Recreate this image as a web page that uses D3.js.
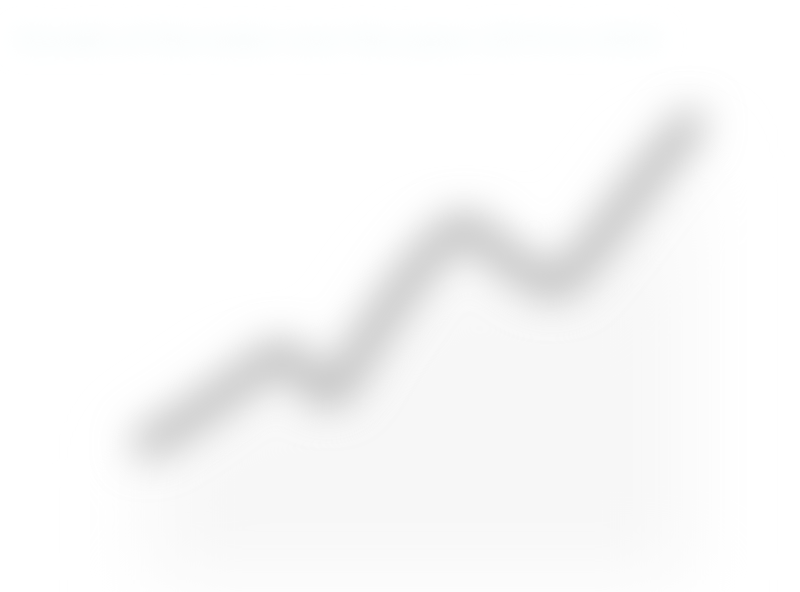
<!DOCTYPE html>
<html>
<head>
<meta charset="utf-8">
<script src="https://d3js.org/d3.v7.min.js"></script>
<style>
  html, body { margin: 0; padding: 0; background: #fff; }
</style>
</head>
<body>
<div id="chart"></div>
<script>
var years = ["2010","2011","2012","2013","2014","2015","2016","2017","2018","2019","2020","2021","2022"];
var values = [14, 21, 29, 36, 27, 42, 58, 68, 60, 54, 65, 80, 94];
var title = "Growth of the index over the years 2010 to 2022";

var width = 800, height = 592;

var svg = d3.select("#chart")
  .append("svg")
    .attr("width", width)
    .attr("height", height);

// heavy blur like the reference
var defs = svg.append("defs");
function addBlur(id, sd) {
  defs.append("filter")
      .attr("id", id)
      .attr("x", "-50%").attr("y", "-50%")
      .attr("width", "200%").attr("height", "200%")
    .append("feGaussianBlur")
      .attr("stdDeviation", sd);
}
addBlur("blurLine", 20);
addBlur("blurArea", 40);
addBlur("blurTitle", 12);

svg.append("rect")
    .attr("width", width)
    .attr("height", height)
    .attr("fill", "#ffffff");

var x = d3.scalePoint()
    .domain(years)
    .range([147, 690]);

var y = d3.scaleLinear()
    .domain([0, 100])
    .range([500, 100]);

svg.append("text")
    .attr("x", 14)
    .attr("y", 50)
    .attr("font-family", "Roboto, sans-serif")
    .attr("font-size", "30px")
    .attr("font-weight", "bold")
    .attr("fill", "#f3f9f9")
    .attr("filter", "url(#blurTitle)")
    .text(title);

var data = years.map(function(d, i) { return {year: d, value: values[i]}; });

// faint area under the line
svg.append("path")
    .datum(data)
    .attr("fill", "#f7f7f7")
    .attr("filter", "url(#blurArea)")
    .attr("d", d3.area()
      .x(function(d) { return x(d.year); })
      .y0(y(-20))
      .y1(function(d) { return y(d.value) + 20; }));

svg.append("path")
    .datum(data)
    .attr("fill", "none")
    .attr("stroke", "#b2b2b2")
    .attr("stroke-width", 28)
    .attr("stroke-linecap", "round")
    .attr("stroke-linejoin", "round")
    .attr("filter", "url(#blurLine)")
    .attr("d", d3.line()
      .curve(d3.curveMonotoneX)
      .x(function(d) { return x(d.year); })
      .y(function(d) { return y(d.value); }));
</script>
</body>
</html>
